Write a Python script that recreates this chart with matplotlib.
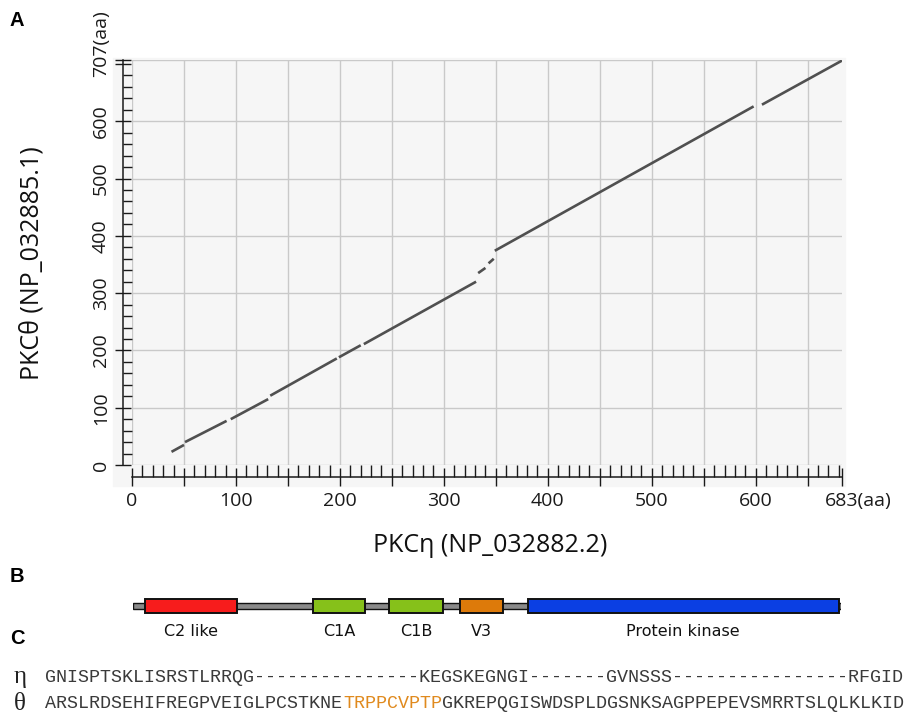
import numpy as np
import matplotlib.pyplot as plt
from matplotlib.patches import Rectangle
from matplotlib.transforms import ScaledTranslation

# dot plot pieces (PKCeta residue -> PKCtheta residue)
seg_x0 = [38, 51, 95, 133, 199, 223, 333, 343, 349, 606]
seg_x1 = [50, 91, 131, 197, 220, 331, 340, 348, 598, 683]
seg_y0 = [23, 40, 80, 121, 188, 211, 335, 352, 374, 629]
seg_y1 = [35, 77, 115, 186, 209, 320, 344, 360, 626, 706]

len_eta = 683
len_theta = 707

# domain map of PKCtheta
dom_names = ['C2 like', 'C1A', 'C1B', 'V3', 'Protein kinase']
dom_start = [12, 180, 256, 327, 394]
dom_end = [104, 232, 310, 369, 705]
dom_colors = ['#f71c1c', '#86c11a', '#86c11a', '#dd7a0a', '#0b3fe3']

# alignment
seq_eta = "GNISPTSKLISRSTLRRQG---------------KEGSKEGNGI-------GVNSSS----------------RFGID"
seq_theta = "ARSLRDSEHIFREGPVEIGLPCSTKNETRPPCVPTPGKREPQGISWDSPLDGSNKSAGPPEPEVSMRRTSLQLKLKID"
motif = "TRPPCVPTP"

W, H = 906, 716
fig = plt.figure(figsize=(W / 100, H / 100), dpi=100)
sans = ['Open Sans', 'DejaVu Sans']

# light panel behind plot A (extends under the ticks)
fig.patches.append(Rectangle((113 / W, 1 - 486 / H), (845 - 113) / W, (486 - 58) / H,
                             transform=fig.transFigure, color='#f6f6f6', zorder=-1))

ax = fig.add_axes([132 / W, 1 - 465 / H, 710 / W, 405 / H])
ax.set_facecolor('none')
ax.set_xlim(0, len_eta)
ax.set_ylim(0, len_theta)

for gx in range(0, len_eta, 50):
    ax.axvline(gx, color='#c9c9c9', lw=1.0, zorder=0)
for gy in list(range(0, 601, 100)) + [len_theta]:
    ax.axhline(gy, color='#c9c9c9', lw=1.0, zorder=0)

for x0, x1, y0, y1 in zip(seg_x0, seg_x1, seg_y0, seg_y1):
    ax.plot([x0, x1], [y0, y1], color='#505050', lw=1.9, solid_capstyle='butt', zorder=3)

ax.spines['top'].set_visible(False)
ax.spines['right'].set_visible(False)
ax.spines['left'].set_position(('outward', 6.5))
ax.spines['bottom'].set_position(('outward', 8.6))
for s in ('left', 'bottom'):
    ax.spines[s].set_linewidth(1.1)
    ax.spines[s].set_color('#1a1a1a')

xt = list(range(0, 651, 50)) + [len_eta]
xl = [str(v) if v % 100 == 0 else '' for v in range(0, 651, 50)] + ['683(aa)']
yt = list(range(0, 701, 100)) + [len_theta]
yl = [str(v) for v in range(0, 601, 100)] + ['', '707(aa)']
ax.set_xticks(xt, labels=xl)
ax.set_yticks(yt, labels=yl)
ax.set_xticks(range(0, len_eta, 10), minor=True)
ax.set_yticks(range(0, len_theta, 20), minor=True)

fs_tick = 14
ax.tick_params(axis='x', which='major', direction='inout', length=13, width=1.0,
               pad=4.5, labelsize=fs_tick, colors='#1a1a1a')
ax.tick_params(axis='x', which='minor', direction='in', length=8.6, width=1.0, colors='#1a1a1a')
ax.tick_params(axis='y', which='major', direction='inout', length=12, width=1.0,
               pad=3.5, labelsize=fs_tick, labelrotation=90, colors='#1a1a1a')
ax.tick_params(axis='y', which='minor', direction='in', length=6.5, width=1.0, colors='#1a1a1a')

for lab in ax.get_xticklabels() + ax.get_yticklabels():
    lab.set_family(sans)
for lab in ax.get_yticklabels():
    lab.set_va('center')

# "(aa)" hangs past the end tick
shift = 1.5 * 0.572 * fs_tick / 72
xlast = ax.get_xticklabels()[-1]
xlast.set_ha('left')
xlast.set_transform(xlast.get_transform() + ScaledTranslation(-shift, 0, fig.dpi_scale_trans))
ylast = ax.get_yticklabels()[-1]
ylast.set_va('bottom')
ylast.set_transform(ylast.get_transform() + ScaledTranslation(0, -shift, fig.dpi_scale_trans))

ax.set_xlabel('PKCη (NP_032882.2)', fontsize=18, family=sans, color='#111111', va='center')
ax.xaxis.set_label_coords(0.504, -0.2)
ax.set_ylabel('PKCθ (NP_032885.1)', fontsize=18, family=sans, color='#111111', va='center')
ax.yaxis.set_label_coords(-0.141, 0.499)

# panel B: domain map
axb = fig.add_axes([133 / W, 1 - 640 / H, 708 / W, 45 / H])
axb.set_xlim(0, len_theta)
axb.set_ylim(45, 0)
axb.axis('off')
axb.add_patch(Rectangle((0, 8), len_theta, 6, facecolor='#8a8a8a', edgecolor='#111111', lw=1.0))
for name, a, b, c in zip(dom_names, dom_start, dom_end, dom_colors):
    axb.add_patch(Rectangle((a, 4), b - a, 14, facecolor=c, edgecolor='#111111', lw=1.4, zorder=3))
    axb.text((a + b) / 2, 36, name, ha='center', va='center', fontsize=11.5,
             family=['Liberation Sans Narrow', 'DejaVu Sans'], color='#111111')

# panel C: alignment, monospace so each residue has a fixed slot
mono = ['Liberation Mono', 'DejaVu Sans Mono']
fs_seq = 13.25
char_w = 0.6 * fs_seq / 72  # inches per character
x_seq = 45 / W
i = seq_theta.find(motif)
j = i + len(motif)
fig.text(x_seq, 1 - 677 / H, seq_eta, family=mono, fontsize=fs_seq, color='#3a3a3a',
         ha='left', va='center')
pieces = [(0, seq_theta[:i], '#3a3a3a'), (i, motif, '#e08a1e'), (j, seq_theta[j:], '#3a3a3a')]
for start, txt, col in pieces:
    t = fig.text(x_seq, 1 - 704 / H, txt, family=mono, fontsize=fs_seq, color=col,
                 ha='left', va='center')
    t.set_transform(fig.transFigure + ScaledTranslation(start * char_w, 0, fig.dpi_scale_trans))

fig.text(20 / W, 1 - 677 / H, 'η', family=['Liberation Serif', 'DejaVu Serif'], fontsize=18,
         ha='center', va='center', color='#222222')
fig.text(20 / W, 1 - 704 / H, 'θ', family=['Liberation Serif', 'DejaVu Serif'], fontsize=18,
         ha='center', va='center', color='#222222')

for letter, yy in [('A', 20), ('B', 576), ('C', 638)]:
    fig.text(17 / W, 1 - yy / H, letter, fontsize=14.5, fontweight='bold',
             family=['Liberation Sans', 'DejaVu Sans'], ha='center', va='center')

fig.savefig('out.png', dpi=100)
